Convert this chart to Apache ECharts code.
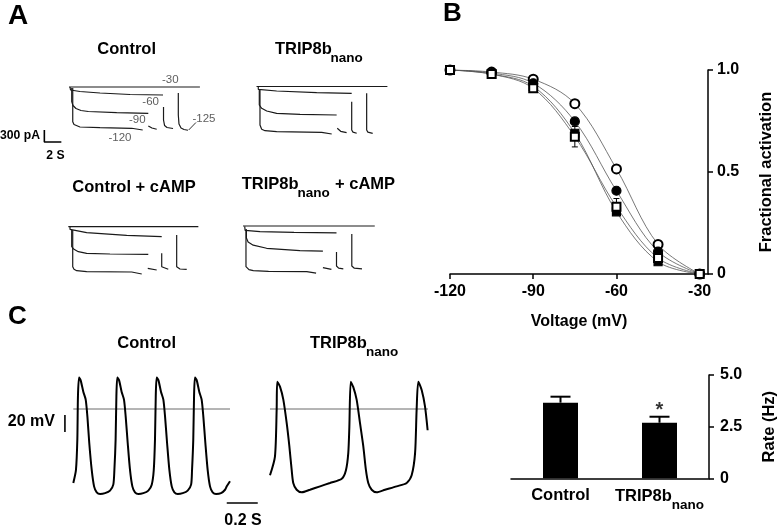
<!DOCTYPE html>
<html><head><meta charset="utf-8">
<script src="https://cdn.jsdelivr.net/npm/echarts@6/dist/echarts.min.js"></script>
<style>html,body{margin:0;padding:0;background:#fff}#c{width:779px;height:527px}</style>
</head><body><div id="c"></div>
<script>
const FF = '"Liberation Sans", Arial, Helvetica, sans-serif';

// ---------- Panel A: current traces, [time (s), current (pA)] ----------
const ctrlBase = [[0,0],[15.4,0]];
const ctrlV30  = [[12.86,-150],[12.86,-700],[12.94,-925],[13.18,-1025],[13.53,-1062],[14.0,-1082]];
const ctrlV60  = [[0.12,0],[0.18,-75],[1.29,-112],[3.65,-150],[7.18,-188],[11.06,-200],[11.12,'-'],[11.12,-500],[11.12,-825],[11.24,-962],[11.53,-1012],[12.24,-1037]];
const ctrlV90  = [[0.32,-25],[0.32,-367],[0.47,-462],[0.82,-537],[1.41,-587],[2.27,-612],[5.61,-642],[9.33,-657],[9.33,'-'],[9.33,-975],[9.76,-1025],[10.32,-1057]];
const ctrlV120 = [[0.44,-25],[0.44,-867],[0.59,-937],[0.82,-975],[1.29,-1000],[3.65,-1017],[7.38,-1032],[7.38,-1062],[8.67,-1075]];
const ctrlLeader = [[14.08,-1075],[14.94,-887]];

const tripBase = [[0,0],[15.4,0]];
const tripV30  = [[12.96,-170],[12.96,-1087],[13.1,-1140],[13.67,-1170]];
const tripV60  = [[0.21,0],[0.21,-70],[2.37,-112],[7.08,-155],[11.2,-170],[11.2,'-'],[11.2,-380],[11.2,-1087],[11.35,-1140],[11.79,-1170]];
const tripV90  = [[0.33,-87],[0.33,-462],[0.61,-545],[1.2,-612],[2.37,-670],[5.12,-695],[9.43,-712],[9.5,'-'],[9.5,-1045],[9.9,-1120],[10.6,-1155]];
const tripV120 = [[0.41,-87],[0.41,-962],[0.61,-1070],[1.0,-1105],[2.37,-1130],[7.67,-1145],[7.67,-1170],[8.85,-1187]];

const ctrlCampBase = [[0,0],[15.3,0]];
const ctrlCampV30  = [[12.75,-207],[12.75,-1000],[13.14,-1057],[13.93,-1065]];
const ctrlCampV60  = [[0.2,-10],[0.2,-65],[2.16,-150],[6.87,-215],[10.99,-250],[10.99,'-'],[10.99,-665],[10.99,-1000],[11.2,-1050],[11.76,-1065]];
const ctrlCampV90  = [[0.4,-82],[0.4,-500],[0.67,-565],[1.18,-625],[2.16,-665],[4.9,-682],[9.41,-690],[9.41,'-'],[9.35,-1040],[10.4,-1082]];
const ctrlCampV120 = [[0.52,-82],[0.52,-1000],[0.67,-1065],[0.99,-1100],[2.16,-1125],[7.46,-1132],[7.46,-1165],[8.64,-1182]];

const tripCampBase = [[0,0],[15.5,0]];
const tripCampV30  = [[12.8,-200],[12.8,-1000],[13.1,-1055],[14.0,-1070]];
const tripCampV60  = [[0.2,-10],[0.25,-110],[2,-140],[6,-160],[11.0,-170],[11.0,'-'],[11.0,-650],[11.0,-1000],[11.25,-1055],[11.8,-1070]];
const tripCampV90  = [[0.4,-80],[0.4,-300],[0.6,-400],[1.2,-480],[2.78,-557],[6.7,-617],[9.4,-630],[9.4,'-'],[9.4,-1040],[10.4,-1085]];
const tripCampV120 = [[0.35,-80],[0.35,-1017],[0.7,-1090],[1.21,-1117],[3,-1135],[7.5,-1142],[7.5,-1160],[8.6,-1180]];

// step-voltage labels (Control panel): [time, current, text]
const stepLabels = [[11.92,175,'-30'],[9.61,-375,'-60'],[8.04,-825,'-90'],[6.0,-1262,'-120'],[15.88,-787,'-125']];
// scale bar: 300 pA / 2 s
const scaleBarA = [[-2.9,-1075],[-2.9,-1375],[-0.9,-1375]];

// ---------- Panel B: activation curves ----------
const voltages = [-120,-105,-90,-75,-60,-45,-30];
const voltTicks = [-120,-90,-60,-30];
const actOpenCircle   = [1.0,0.99,0.955,0.835,0.515,0.145,0.0];
const actFilledCircle = [1.0,0.985,0.935,0.748,0.408,0.11,0.0];
const actFilledSquare = [1.0,0.98,0.92,0.69,0.305,0.06,0.0];
const actOpenSquare   = [1.0,0.98,0.91,0.673,0.33,0.078,0.0];
const errOpenSquare   = [0,0,0,0.05,0.04,0,0];

// ---------- Panel C: action potentials, [time (s), voltage (mV)] ----------
const ctrlAP = [
[0.000,-87],[0.017,-72],[0.026,-36],[0.030,15],[0.037,37],[0.047,34],[0.065,20],[0.080,11],[0.091,-9],[0.103,-40],[0.119,-72],[0.134,-91],[0.151,-98],[0.173,-100],[0.205,-99],[0.237,-96],[0.258,-89],
[0.265,-72],[0.273,-36],[0.278,15],[0.284,37],[0.295,34],[0.312,20],[0.327,11],[0.338,-9],[0.351,-40],[0.366,-72],[0.381,-91],[0.398,-98],[0.420,-100],[0.452,-99],[0.484,-96],[0.506,-89],
[0.519,-72],[0.527,-36],[0.532,15],[0.538,37],[0.549,34],[0.566,20],[0.581,11],[0.592,-9],[0.605,-40],[0.620,-72],[0.635,-91],[0.652,-98],[0.674,-100],[0.706,-99],[0.738,-96],[0.760,-89],
[0.766,-72],[0.774,-36],[0.779,15],[0.785,37],[0.796,34],[0.813,20],[0.828,11],[0.839,-9],[0.852,-40],[0.867,-72],[0.882,-91],[0.899,-98],[0.921,-100],[0.953,-99],[0.979,-95],[0.990,-91],[1.011,-85]];
const tripAP = [
[1.269,-78],[1.301,-56],[1.312,-1],[1.316,32],[1.334,26],[1.355,11],[1.377,-17],[1.394,-44],[1.409,-72],[1.419,-87],[1.441,-95],[1.474,-98],[1.527,-95],[1.592,-91],[1.656,-87],[1.732,-82],
[1.759,-72],[1.774,-52],[1.781,-21],[1.790,32],[1.806,26],[1.828,11],[1.850,-17],[1.871,-44],[1.888,-72],[1.903,-87],[1.925,-95],[1.957,-98],[2.011,-95],[2.086,-91],[2.151,-87],
[2.183,-78],[2.205,-52],[2.215,-1],[2.226,32],[2.248,22],[2.269,3],[2.286,-25]];
const ctrlZero = [[0,0],[1.011,0]];
const tripZero = [[1.269,0],[2.288,0]];
const scaleBarMV = [[-0.054,-7],[-0.054,-27]];   // 20 mV
const scaleBarS  = [[0.99,-110.6],[1.19,-110.6]]; // 0.2 s

// ---------- Panel C: firing rate ----------
const rateCats = ['Control','TRIP8b_nano'];
const rateMean = [3.66, 2.69];
const rateErr  = [0.29, 0.29];
const rateSig  = ['', '*'];
const rateTicks = [0, 2.5, 5];

// ================= build =================
const grids = [], xAxes = [], yAxes = [], series = [];
const PXS = 8.5, PXA = 0.04;
const aOrigin = [[69,87],[256.5,86.5],[68.3,226.7],[243,226]];
aOrigin.forEach(([ox,oy],i)=>{
  grids.push({left: ox - 3*PXS, top: oy - 200*PXA, width: 20*PXS, height: 1600*PXA});
  xAxes.push({gridIndex:i, type:'value', min:-3, max:17, show:false});
  yAxes.push({gridIndex:i, type:'value', min:-1400, max:200, show:false});
});
const aTraces = [
  [ctrlBase, ctrlV30, ctrlV60, ctrlV90, ctrlV120, ctrlLeader],
  [tripBase, tripV30, tripV60, tripV90, tripV120],
  [ctrlCampBase, ctrlCampV30, ctrlCampV60, ctrlCampV90, ctrlCampV120],
  [tripCampBase, tripCampV30, tripCampV60, tripCampV90, tripCampV120]
];
function line(gi, data, color, width, smooth) {
  series.push({type:'line', xAxisIndex:gi, yAxisIndex:gi, data, symbol:'none', showSymbol:false,
    smooth: smooth || false, connectNulls:false, silent:true,
    lineStyle:{color, width}, z:2});
}
aTraces.forEach((arr,gi)=>arr.forEach((d,k)=>line(gi, d, '#1a1a1a', (k===5)?0.9:1.2)));
line(0, scaleBarA, '#000', 1.6);
series.push({type:'scatter', xAxisIndex:0, yAxisIndex:0, data: stepLabels, symbolSize:0, silent:true,
  label:{show:true, position:'inside', formatter:p=>p.value[2], color:'#333', fontSize:11.5, fontFamily:FF}});

// Panel B
grids.push({left:450, top:70, width:258, height:204});
const axBlack = {color:'#000', width:1.5};
xAxes.push({gridIndex:4, type:'value', min:-120, max:-27, position:'bottom',
  axisLine:{show:true, onZero:false, lineStyle:axBlack},
  axisTick:{show:true, customValues:voltTicks, length:5, lineStyle:axBlack},
  axisLabel:{customValues:voltTicks, color:'#000', fontWeight:'bold', fontSize:16, fontFamily:FF, margin:10},
  splitLine:{show:false},
  name:'Voltage (mV)', nameLocation:'middle', nameGap:40,
  nameTextStyle:{color:'#000', fontWeight:'bold', fontSize:16, fontFamily:FF}});
yAxes.push({gridIndex:4, type:'value', position:'right', min:0, max:1, interval:0.5,
  axisLine:{show:true, onZero:false, lineStyle:axBlack},
  axisTick:{show:true, length:5, lineStyle:axBlack},
  axisLabel:{color:'#000', fontWeight:'bold', fontSize:16, fontFamily:FF, margin:9,
    formatter:v=> v===0 ? '0' : v.toFixed(1)},
  splitLine:{show:false},
  name:'Fractional activation', nameLocation:'middle', nameRotate:90, nameGap:50,
  nameTextStyle:{color:'#000', fontWeight:'bold', fontSize:16.5, fontFamily:FF}});
const bSeries = [
  [actOpenCircle, 'emptyCircle', 9],
  [actFilledCircle, 'circle', 9],
  [actFilledSquare, 'rect', 8],
  [actOpenSquare, 'emptyRect', 8]
];
bSeries.forEach(([vals, sym, size])=>{
  series.push({type:'line', xAxisIndex:4, yAxisIndex:4, data: voltages.map((v,i)=>[v, vals[i]]),
    symbol:sym, symbolSize:size, showSymbol:true, smooth:0.35, silent:true,
    lineStyle:{color:'#555', width:0.8}, itemStyle:{color:'#000', borderColor:'#000', borderWidth:1.2}, z:3});
});
series.push({type:'custom', xAxisIndex:4, yAxisIndex:4, silent:true, z:2,
  data: voltages.map((v,i)=>[v, actOpenSquare[i], errOpenSquare[i]]).filter(d=>d[2]>0),
  renderItem:(params, api)=>{
    const x = api.value(0), m = api.value(1), e = api.value(2);
    const lo = api.coord([x, m-e]), hi = api.coord([x, m+e]);
    const st = {stroke:'#000', lineWidth:1};
    return {type:'group', children:[
      {type:'line', shape:{x1:lo[0], y1:lo[1], x2:hi[0], y2:hi[1]}, style:st},
      {type:'line', shape:{x1:lo[0]-3, y1:lo[1], x2:lo[0]+3, y2:lo[1]}, style:st},
      {type:'line', shape:{x1:hi[0]-3, y1:hi[1], x2:hi[0]+3, y2:hi[1]}, style:st}]};
  }});

// Panel C traces
const PXT = 155, PXV = 0.85;
grids.push({left:73.3 - 0.1*PXT, top:409 - 45*PXV, width:2.5*PXT, height:165*PXV});
xAxes.push({gridIndex:5, type:'value', min:-0.1, max:2.4, show:false});
yAxes.push({gridIndex:5, type:'value', min:-120, max:45, show:false});
line(5, ctrlZero, '#444', 0.8);
line(5, tripZero, '#444', 0.8);
line(5, ctrlAP, '#000', 2, 0.25);
line(5, tripAP, '#000', 2, 0.25);
line(5, scaleBarMV, '#000', 1.6);
line(5, scaleBarS, '#000', 1.6);

// Panel C bars
grids.push({left:511, top:375, width:199, height:103.3});
const richLab = {
  m:{fontSize:16.5, fontWeight:'bold', fontFamily:FF, color:'#000', lineHeight:31},
  s:{fontSize:13.5, fontWeight:'bold', fontFamily:FF, color:'#000', padding:[18,0,0,0]}
};
xAxes.push({gridIndex:6, type:'category', data:rateCats,
  axisLine:{show:true, onZero:false, lineStyle:axBlack}, axisTick:{show:false},
  axisLabel:{margin:2, interval:0, formatter:v=> v==='TRIP8b_nano' ? '{m|TRIP8b}{s|nano}' : '{m|'+v+'}', rich:richLab}});
yAxes.push({gridIndex:6, type:'value', position:'right', min:0, max:5, interval:2.5,
  axisLine:{show:true, onZero:false, lineStyle:axBlack},
  axisTick:{show:true, length:5, lineStyle:axBlack},
  axisLabel:{color:'#000', fontWeight:'bold', fontSize:16, fontFamily:FF, margin:11,
    formatter:v=> v===0 ? '0' : v.toFixed(1)},
  splitLine:{show:false},
  name:'Rate (Hz)', nameLocation:'middle', nameRotate:90, nameGap:52,
  nameTextStyle:{color:'#000', fontWeight:'bold', fontSize:16.5, fontFamily:FF}});
series.push({type:'bar', xAxisIndex:6, yAxisIndex:6, data:rateMean, barWidth:35, silent:true,
  itemStyle:{color:'#000'}, z:2});
series.push({type:'custom', xAxisIndex:6, yAxisIndex:6, silent:true, z:3,
  data: rateMean.map((v,i)=>[i, v, v+rateErr[i]]),
  renderItem:(params, api)=>{
    const b = api.coord([api.value(0), api.value(1)]), t = api.coord([api.value(0), api.value(2)]);
    const st = {stroke:'#000', lineWidth:2};
    return {type:'group', children:[
      {type:'line', shape:{x1:t[0], y1:b[1], x2:t[0], y2:t[1]}, style:st},
      {type:'line', shape:{x1:t[0]-10, y1:t[1], x2:t[0]+10, y2:t[1]}, style:st}]};
  }});
series.push({type:'scatter', xAxisIndex:6, yAxisIndex:6, symbolSize:0, silent:true,
  data: rateMean.map((v,i)=>[i, v+rateErr[i]]),
  label:{show:true, position:'inside', offset:[0,-6], formatter:p=>rateSig[p.dataIndex],
    color:'#000', fontSize:20, fontWeight:'bold', fontFamily:FF}});

// ---------- text annotations ----------
function txt(x, y, text, size, align, weight, color) {
  return {type:'text', x, y, silent:true, style:{text, font:(weight||'bold')+' '+size+'px '+FF,
    fill:color||'#000', textAlign:align||'left', textVerticalAlign:'middle', align:align||'left', verticalAlign:'middle'}};
}
const graphic = [
  txt(8, 16, 'A', 28), txt(443, 14, 'B', 26), txt(8, 317, 'C', 26),
  txt(126.7, 49, 'Control', 16.5, 'center'),
  txt(275, 49, 'TRIP8b', 16.5), txt(330.5, 58, 'nano', 13.5),
  txt(134, 187.5, 'Control + cAMP', 16.5, 'center'),
  txt(241.7, 184.3, 'TRIP8b', 16.5), txt(297.5, 193.5, 'nano', 13.5), txt(335, 184.3, '+ cAMP', 16.5),
  txt(40, 136, '300 pA', 12.2, 'right'), txt(55.5, 155.5, '2 S', 12.2, 'center'),
  txt(146.7, 343, 'Control', 16.5, 'center'),
  txt(310, 343, 'TRIP8b', 16.5), txt(366, 352, 'nano', 13.5),
  txt(55, 422, '20 mV', 16, 'right'), txt(243, 521, '0.2 S', 16, 'center')
];

const chart = echarts.init(document.getElementById('c'), null, {renderer:'canvas', width:779, height:527});
chart.setOption({animation:false, backgroundColor:'#fff', grid:grids, xAxis:xAxes, yAxis:yAxes, series, graphic});
</script></body></html>
